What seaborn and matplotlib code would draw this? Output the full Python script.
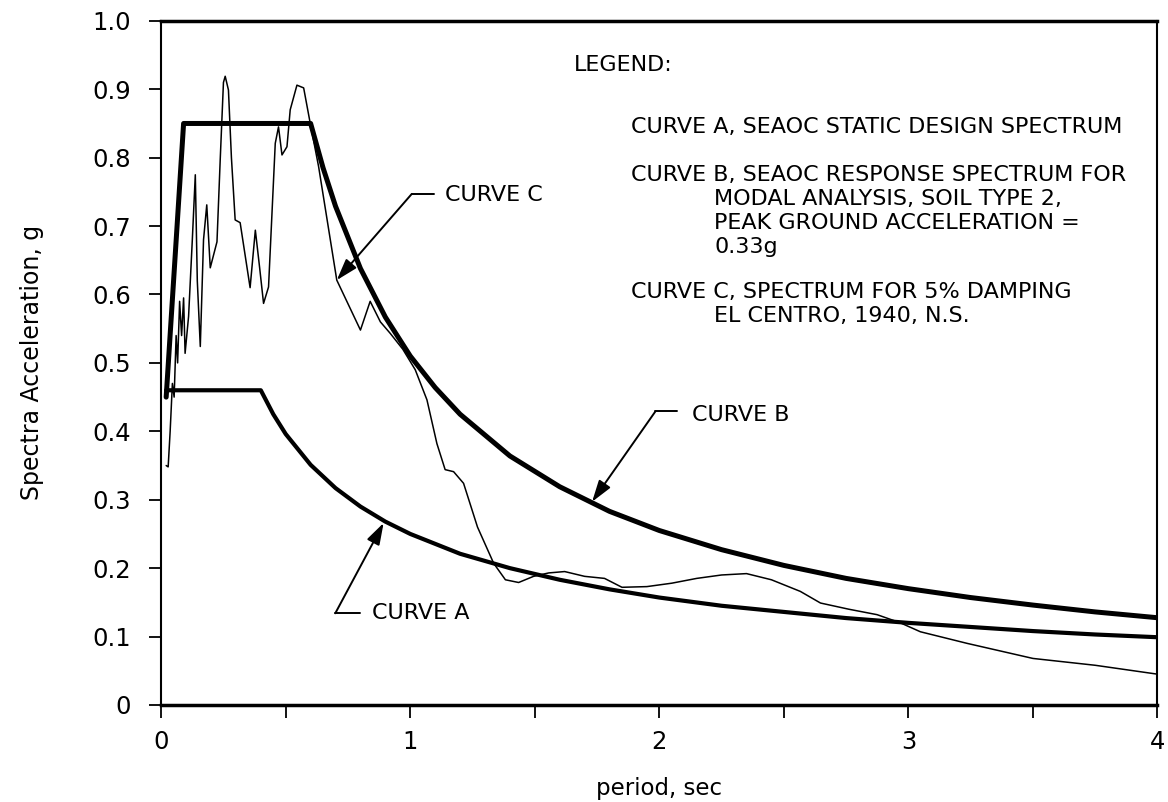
import matplotlib
matplotlib.use("Agg")
import matplotlib.pyplot as plt
import seaborn as sns
import pandas as pd

# ---- data ----
# Curve A: SEAOC static design spectrum
a_period = [0.02, 0.40, 0.45, 0.50, 0.60, 0.70, 0.80, 0.90, 1.00, 1.20, 1.40, 1.60,
            1.80, 2.00, 2.25, 2.50, 2.75, 3.00, 3.25, 3.50, 3.75, 4.00]
a_accel = [0.460, 0.460, 0.425, 0.396, 0.351, 0.317, 0.290, 0.268, 0.250, 0.221, 0.200,
           0.183, 0.169, 0.157, 0.145, 0.136, 0.127, 0.120, 0.114, 0.108, 0.103, 0.099]

# Curve B: SEAOC response spectrum for modal analysis
b_period = [0.02, 0.09, 0.60, 0.65, 0.70, 0.80, 0.90, 1.00, 1.10, 1.20, 1.40, 1.60,
            1.80, 2.00, 2.25, 2.50, 2.75, 3.00, 3.25, 3.50, 3.75, 4.00]
b_accel = [0.450, 0.850, 0.850, 0.785, 0.729, 0.638, 0.567, 0.510, 0.464, 0.425, 0.364,
           0.319, 0.283, 0.255, 0.227, 0.204, 0.185, 0.170, 0.157, 0.146, 0.136, 0.1275]

# Curve C: El Centro 1940 N.S., 5% damping
c_period = [0.020, 0.028, 0.036, 0.045, 0.052, 0.060, 0.066, 0.074, 0.082, 0.090,
            0.096, 0.110, 0.125, 0.137, 0.145, 0.157, 0.170, 0.183, 0.197, 0.224,
            0.237, 0.250, 0.257, 0.270, 0.282, 0.297, 0.317, 0.357, 0.378, 0.395,
            0.411, 0.431, 0.458, 0.471, 0.485, 0.505, 0.518, 0.545, 0.572, 0.598,
            0.632, 0.705, 0.800, 0.839, 0.880, 0.920, 0.970, 1.020, 1.067, 1.107,
            1.140, 1.174, 1.214, 1.270, 1.335, 1.382, 1.435, 1.495, 1.556, 1.620,
            1.700, 1.780, 1.850, 1.950, 2.050, 2.150, 2.250, 2.350, 2.450, 2.566,
            2.647, 2.760, 2.874, 2.968, 3.048, 3.236, 3.500, 3.750, 4.000]
c_accel = [0.350, 0.348, 0.400, 0.470, 0.450, 0.540, 0.500, 0.590, 0.540, 0.595,
           0.514, 0.568, 0.680, 0.775, 0.620, 0.524, 0.680, 0.731, 0.639, 0.677,
           0.797, 0.910, 0.919, 0.899, 0.800, 0.709, 0.705, 0.610, 0.694, 0.640,
           0.587, 0.611, 0.821, 0.845, 0.804, 0.816, 0.870, 0.906, 0.902, 0.851,
           0.787, 0.621, 0.548, 0.590, 0.560, 0.543, 0.520, 0.490, 0.446, 0.382,
           0.344, 0.341, 0.324, 0.260, 0.207, 0.183, 0.179, 0.188, 0.193, 0.195,
           0.188, 0.185, 0.172, 0.173, 0.178, 0.185, 0.190, 0.192, 0.183, 0.166,
           0.149, 0.140, 0.132, 0.120, 0.107, 0.090, 0.068, 0.058, 0.045]

x_ticks = [0, 1, 2, 3, 4]
x_minor = [0.5, 1.5, 2.5, 3.5]
y_ticks = [0.0, 0.1, 0.2, 0.3, 0.4, 0.5, 0.6, 0.7, 0.8, 0.9, 1.0]
y_labels = ["0", "0.1", "0.2", "0.3", "0.4", "0.5", "0.6", "0.7", "0.8", "0.9", "1.0"]

legend_lines = [
    ("LEGEND:", 1.655, 0.935),
    ("CURVE A, SEAOC STATIC DESIGN SPECTRUM", 1.885, 0.845),
    ("CURVE B, SEAOC RESPONSE SPECTRUM FOR", 1.885, 0.775),
    ("MODAL ANALYSIS, SOIL TYPE 2,", 2.22, 0.740),
    ("PEAK GROUND ACCELERATION =", 2.22, 0.705),
    ("0.33g", 2.22, 0.670),
    ("CURVE C, SPECTRUM FOR 5% DAMPING", 1.885, 0.603),
    ("EL CENTRO, 1940, N.S.", 2.22, 0.568),
]

# ---- figure ----
sns.set_theme(style="ticks")
plt.rcParams["font.family"] = ["DejaVu Sans"]
plt.rcParams["text.color"] = "black"
plt.rcParams["axes.labelcolor"] = "black"
plt.rcParams["xtick.color"] = "black"
plt.rcParams["ytick.color"] = "black"

fig = plt.figure(figsize=(11.68, 8.02), dpi=100)
ax = fig.add_axes([0.138, 0.121, 0.853, 0.853])

dfa = pd.DataFrame({"period": a_period, "accel": a_accel})
dfb = pd.DataFrame({"period": b_period, "accel": b_accel})
dfc = pd.DataFrame({"period": c_period, "accel": c_accel})

sns.lineplot(data=dfa, x="period", y="accel", ax=ax, color="black", lw=3.0,
             sort=False, estimator=None)
sns.lineplot(data=dfb, x="period", y="accel", ax=ax, color="black", lw=3.6,
             sort=False, estimator=None)
sns.lineplot(data=dfc, x="period", y="accel", ax=ax, color="black", lw=1.1,
             sort=False, estimator=None)

ax.set_xlim(0, 4)
ax.set_ylim(0, 1.0)
ax.set_xticks(x_ticks)
ax.set_xticklabels([str(t) for t in x_ticks])
ax.set_xticks(x_minor, minor=True)
ax.set_yticks(y_ticks)
ax.set_yticklabels(y_labels)
ax.tick_params(axis="both", which="major", direction="out", length=9, width=1.3,
               labelsize=17.5, colors="black")
ax.tick_params(axis="y", which="major", pad=13)
ax.tick_params(axis="x", which="major", pad=9)
ax.tick_params(axis="x", which="minor", direction="out", length=9, width=1.3)
for s in ax.spines.values():
    s.set_linewidth(1.5)
    s.set_color("black")
ax.spines["top"].set_linewidth(2.5)
ax.spines["bottom"].set_linewidth(2.5)

ax.set_xlabel("period, sec", fontsize=16.5)
ax.set_ylabel("Spectra Acceleration, g", fontsize=17)
ax.xaxis.set_label_coords(0.5, -0.105)
ax.yaxis.set_label_coords(-0.118, 0.5)

# legend text block
for txt, xx, yy in legend_lines:
    ax.text(xx, yy, txt, fontsize=16, va="center", ha="left", color="black")

# leader annotations
arrow_kw = dict(arrowstyle="-|>,head_length=1.1,head_width=0.35", color="black",
                lw=1.4, shrinkA=0, shrinkB=0)
# Curve C
ax.plot([1.006, 1.094], [0.747, 0.747], color="black", lw=1.4)
ax.annotate("", xy=(0.705, 0.621), xytext=(1.006, 0.747), arrowprops=arrow_kw)
ax.text(1.14, 0.745, "CURVE C", fontsize=16, va="center", ha="left")
# Curve B
ax.plot([1.984, 2.07], [0.429, 0.429], color="black", lw=1.4)
ax.annotate("", xy=(1.73, 0.297), xytext=(1.984, 0.429), arrowprops=arrow_kw)
ax.text(2.13, 0.424, "CURVE B", fontsize=16, va="center", ha="left")
# Curve A
ax.plot([0.699, 0.80], [0.134, 0.134], color="black", lw=1.4)
ax.annotate("", xy=(0.893, 0.266), xytext=(0.699, 0.134), arrowprops=arrow_kw)
ax.text(0.846, 0.134, "CURVE A", fontsize=16, va="center", ha="left")

fig.savefig("out.png", dpi=100, facecolor="white")
